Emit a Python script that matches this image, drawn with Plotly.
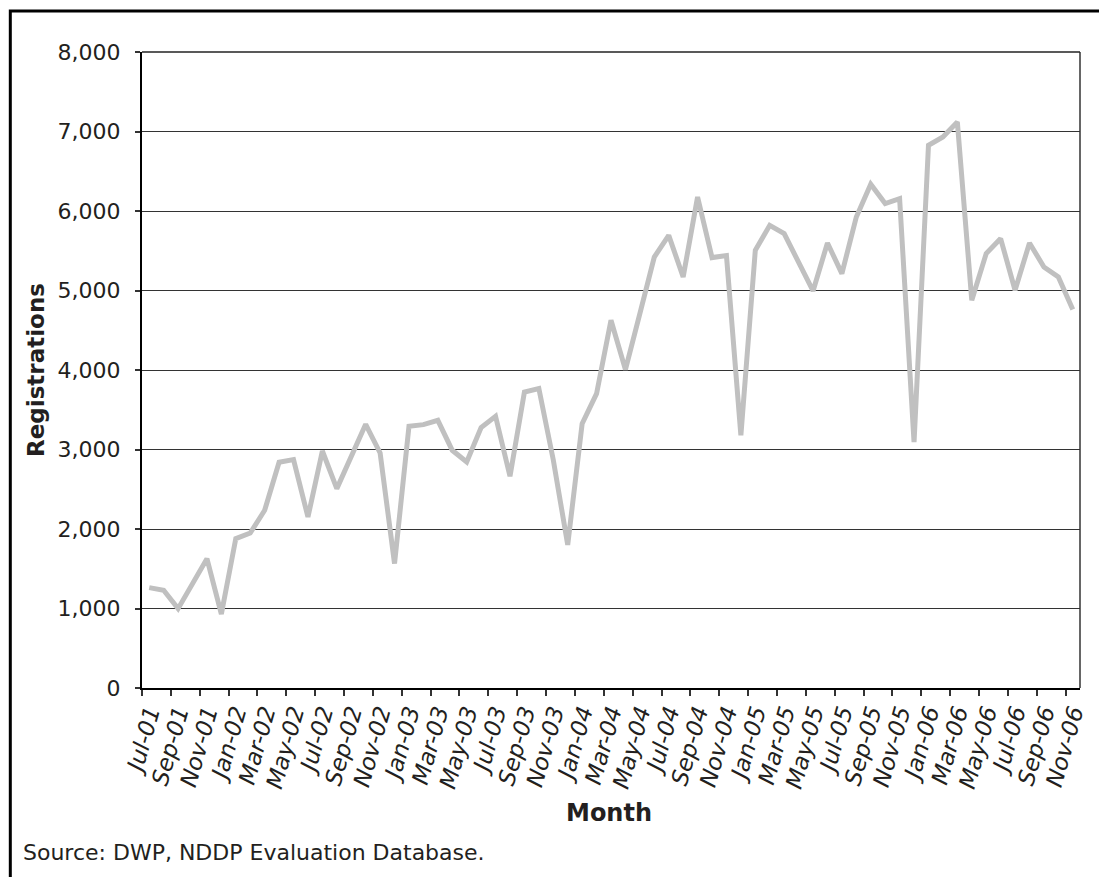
import plotly.graph_objects as go

months = [
    "Jul-01", "Aug-01", "Sep-01", "Oct-01", "Nov-01", "Dec-01",
    "Jan-02", "Feb-02", "Mar-02", "Apr-02", "May-02", "Jun-02",
    "Jul-02", "Aug-02", "Sep-02", "Oct-02", "Nov-02", "Dec-02",
    "Jan-03", "Feb-03", "Mar-03", "Apr-03", "May-03", "Jun-03",
    "Jul-03", "Aug-03", "Sep-03", "Oct-03", "Nov-03", "Dec-03",
    "Jan-04", "Feb-04", "Mar-04", "Apr-04", "May-04", "Jun-04",
    "Jul-04", "Aug-04", "Sep-04", "Oct-04", "Nov-04", "Dec-04",
    "Jan-05", "Feb-05", "Mar-05", "Apr-05", "May-05", "Jun-05",
    "Jul-05", "Aug-05", "Sep-05", "Oct-05", "Nov-05", "Dec-05",
    "Jan-06", "Feb-06", "Mar-06", "Apr-06", "May-06", "Jun-06",
    "Jul-06", "Aug-06", "Sep-06", "Oct-06", "Nov-06",
]

registrations = [
    1263, 1229, 998, 1300, 1627, 930,
    1879, 1950, 2235, 2840, 2873, 2151,
    2981, 2508, 2914, 3317, 2956, 1565,
    3292, 3313, 3367, 2990, 2843, 3275,
    3418, 2663, 3723, 3766, 2870, 1800,
    3325, 3703, 4625, 4005, 4709, 5421,
    5694, 5170, 6176, 5414, 5440, 3179,
    5506, 5820, 5716, 5355, 4994, 5598,
    5213, 5925, 6336, 6093, 6156, 3094,
    6826, 6931, 7120, 4877, 5464, 5653,
    5003, 5598, 5296, 5170, 4760,
]

y_ticks = [0, 1000, 2000, 3000, 4000, 5000, 6000, 7000, 8000]
y_ticklabels = ["0", "1,000", "2,000", "3,000", "4,000", "5,000", "6,000", "7,000", "8,000"]

FONT = "DejaVu Sans"
TXT = "#231f20"

fig = go.Figure()
fig.add_trace(go.Scatter(
    x=months, y=registrations, mode="lines",
    line=dict(color="#c0c0c0", width=5),
    showlegend=False, hoverinfo="x+y",
))

# the page body has an 8px margin; the figure is sized/offset to compensate
fig.update_layout(
    width=1091, height=869,
    margin=dict(l=134, r=10, t=44, b=189),
    paper_bgcolor="white", plot_bgcolor="white",
    font=dict(family=FONT, color=TXT, size=22),
    xaxis=dict(
        type="category", tickmode="linear", tick0=0, dtick=2,
        tickson="boundaries", ticks="outside", ticklen=6, tickwidth=1.5,
        tickcolor="#333333", showgrid=False, zeroline=False,
        showline=True, linecolor="black", linewidth=2,
        tickangle=-74,
        tickfont=dict(family=FONT, size=23, color=TXT, style="italic"),
        range=[-0.5, 64.5],
    ),
    yaxis=dict(
        range=[0, 8000], tickmode="array", tickvals=y_ticks, ticktext=y_ticklabels,
        ticks="outside", ticklen=5, tickwidth=1.5, tickcolor="#333333",
        ticklabelstandoff=10,
        showgrid=True, gridcolor="#333333", gridwidth=1, zeroline=False,
        showline=True, linecolor="black", linewidth=2,
        tickfont=dict(family=FONT, size=22, color=TXT),
    ),
    shapes=[
        dict(type="line", xref="x domain", yref="y domain", x0=1, x1=1, y0=0, y1=1,
             line=dict(color="#333333", width=1.5)),
        dict(type="line", xref="x domain", yref="y domain", x0=0, x1=1, y0=1, y1=1,
             line=dict(color="#222222", width=1.5)),
        dict(type="rect", xref="paper", yref="paper", x0=-0.1404, x1=1.06, y0=-0.45, y1=1.0645,
             line=dict(color="black", width=3), fillcolor="rgba(0,0,0,0)"),
    ],
    annotations=[
        dict(text="<b>Registrations</b>", xref="paper", yref="paper", x=-0.113, y=0.5,
             textangle=-90, showarrow=False, xanchor="center", yanchor="middle",
             font=dict(family=FONT, size=23, color=TXT)),
        dict(text="<b>Month</b>", xref="paper", yref="paper", x=0.498, y=-0.197,
             showarrow=False, xanchor="center", yanchor="middle",
             font=dict(family=FONT, size=24, color=TXT)),
        dict(text="Source: DWP, NDDP Evaluation Database.", xref="paper", yref="paper",
             x=-0.1288, y=-0.258, showarrow=False, xanchor="left", yanchor="middle",
             font=dict(family=FONT, size=22, color=TXT)),
    ],
)

fig.write_html("out.html")
